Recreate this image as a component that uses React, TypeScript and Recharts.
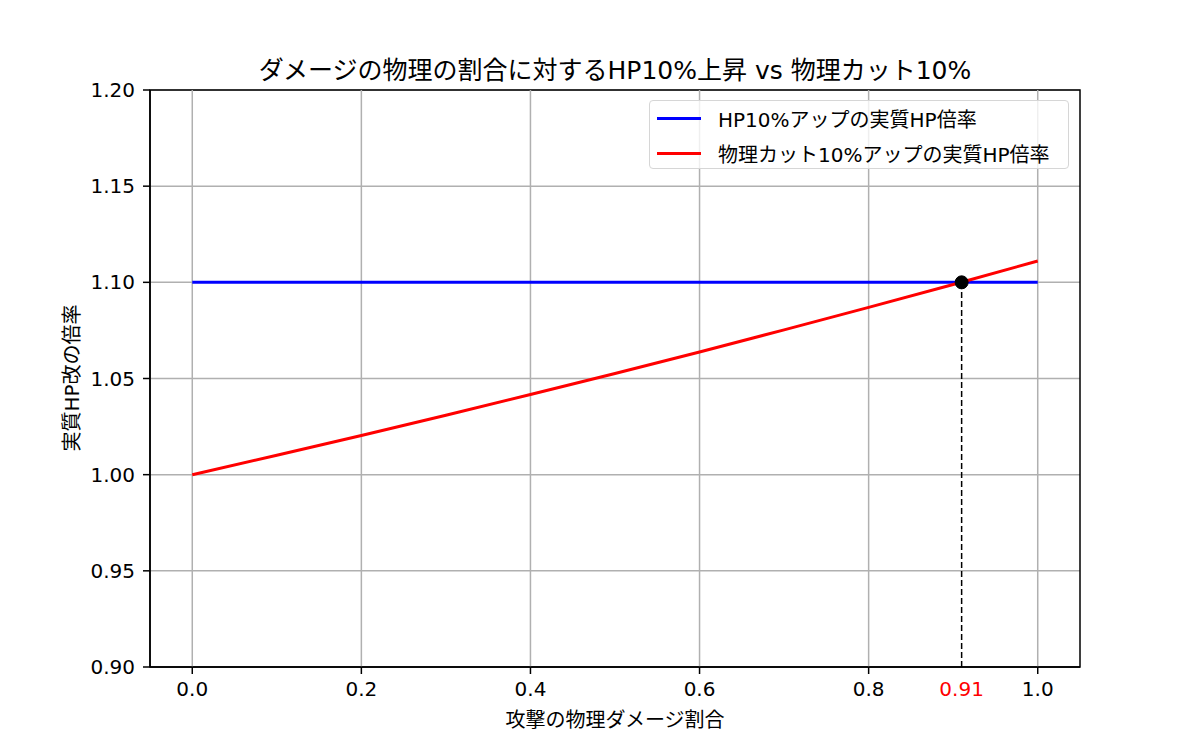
import {
  ComposedChart,
  Line,
  XAxis,
  YAxis,
  CartesianGrid,
  ReferenceLine,
  ReferenceDot,
  ReferenceArea,
} from "recharts";

const FONT = "'DejaVu Sans', 'Noto Sans CJK JP', sans-serif";

// physical damage ratio (x)
const ratios = [0, 0.1, 0.2, 0.3, 0.4, 0.5, 0.6, 0.7, 0.8, 0.9, 1.0];
// effective HP multiplier: HP +10%
const hpUp = [1.1, 1.1, 1.1, 1.1, 1.1, 1.1, 1.1, 1.1, 1.1, 1.1, 1.1];
// effective HP multiplier: physical cut +10%
const cutUp = [1.0, 1.0101, 1.0204, 1.0309, 1.0417, 1.0526, 1.0638, 1.0753, 1.087, 1.0989, 1.1111];

const xTicks = [0, 0.2, 0.4, 0.6, 0.8, 1.0];
const crossX = 0.91;
const crossY = 1.1;
const xLabelTicks = [0, 0.2, 0.4, 0.6, 0.8, crossX, 1.0];
const yTicks = [0.9, 0.95, 1.0, 1.05, 1.1, 1.15, 1.2];

const title = "ダメージの物理の割合に対するHP10%上昇 vs 物理カット10%";
const xLabel = "攻撃の物理ダメージ割合";
const yLabel = "実質HP改の倍率";
const seriesNames = ["HP10%アップの実質HP倍率", "物理カット10%アップの実質HP倍率"];
const seriesColors = ["#0000ff", "#ff0000"];

const data = ratios.map((x, i) => ({ x, hp: hpUp[i], cut: cutUp[i] }));

function XTick(props: any) {
  const { x, y, payload } = props;
  const v = payload.value as number;
  const isCross = v === crossX;
  return (
    <g>
      {!isCross && <line x1={x} x2={x} y1={y - 13} y2={y - 6} stroke="#000" strokeWidth={1.5} />}
      <text
        x={x}
        y={y}
        dy="0.78em"
        textAnchor="middle"
        fontSize={20}
        fontFamily={FONT}
        fill={isCross ? "#ff0000" : "#000"}
      >
        {isCross ? v.toFixed(2) : v.toFixed(1)}
      </text>
    </g>
  );
}

export default function App() {
  return (
    <div
      style={{
        position: "absolute",
        left: 0,
        top: 0,
        width: 1200,
        height: 750,
        background: "#fff",
        fontFamily: FONT,
      }}
    >
      <ComposedChart
        width={1200}
        height={750}
        data={data}
        margin={{ top: 90, right: 120, bottom: 23, left: 50 }}
      >
        <CartesianGrid vertical={false} stroke="#b0b0b0" strokeWidth={1.5} />
        {xTicks.map((t) => (
          <ReferenceLine key={t} x={t} stroke="#b0b0b0" strokeWidth={1.5} />
        ))}
        <XAxis
          type="number"
          dataKey="x"
          domain={[-0.05, 1.05]}
          ticks={xLabelTicks}
          interval={0}
          height={60}
          tickSize={7}
          tickMargin={6}
          tickLine={false}
          axisLine={{ stroke: "#000", strokeWidth: 1.5 }}
          tick={<XTick />}
          allowDataOverflow
        />
        <YAxis
          type="number"
          domain={[0.9, 1.2]}
          ticks={yTicks}
          interval={0}
          width={100}
          tickSize={7}
          tickMargin={8}
          tickLine={{ stroke: "#000", strokeWidth: 1.5 }}
          axisLine={{ stroke: "#000", strokeWidth: 1.5 }}
          tick={{ fontSize: 20, fill: "#000", fontFamily: FONT }}
          tickFormatter={(v: number) => v.toFixed(2)}
          allowDataOverflow
        />
        <ReferenceArea
          x1={-0.05}
          x2={1.05}
          y1={0.9}
          y2={1.2}
          fill="none"
          fillOpacity={0}
          stroke="#000"
          strokeWidth={1.5}
        />
        <Line
          dataKey="hp"
          stroke={seriesColors[0]}
          strokeWidth={3}
          dot={false}
          isAnimationActive={false}
        />
        <Line
          dataKey="cut"
          stroke={seriesColors[1]}
          strokeWidth={3}
          dot={false}
          isAnimationActive={false}
        />
        <ReferenceLine
          segment={[
            { x: crossX, y: 0.9 },
            { x: crossX, y: crossY },
          ]}
          stroke="#000"
          strokeWidth={1.5}
          strokeDasharray="6 3"
        />
        <ReferenceDot x={crossX} y={crossY} r={6.5} fill="#000" stroke="#000" />
      </ComposedChart>

      <div
        style={{
          position: "absolute",
          left: 615,
          top: 68,
          transform: "translate(-50%, -50%)",
          fontSize: 25,
          whiteSpace: "nowrap",
          color: "#000",
        }}
      >
        {title}
      </div>
      <div
        style={{
          position: "absolute",
          left: 615,
          top: 718,
          transform: "translate(-50%, -50%)",
          fontSize: 20,
          whiteSpace: "nowrap",
        }}
      >
        {xLabel}
      </div>
      <div
        style={{
          position: "absolute",
          left: 70,
          top: 378,
          transform: "translate(-50%, -50%) rotate(-90deg)",
          fontSize: 20,
          whiteSpace: "nowrap",
        }}
      >
        {yLabel}
      </div>

      <div
        style={{
          position: "absolute",
          left: 649,
          top: 100,
          width: 420,
          height: 69,
          boxSizing: "border-box",
          border: "1.5px solid #d6d6d6",
          borderRadius: 4,
          background: "rgba(255,255,255,0.8)",
        }}
      >
        {seriesNames.map((name, i) => (
          <div
            key={name}
            style={{
              position: "absolute",
              left: 7,
              top: 4 + i * 35,
              height: 26,
              display: "flex",
              alignItems: "center",
              fontSize: 20,
              whiteSpace: "nowrap",
            }}
          >
            <span
              style={{
                display: "inline-block",
                width: 44,
                height: 3,
                background: seriesColors[i],
                marginRight: 17,
              }}
            />
            {name}
          </div>
        ))}
      </div>
    </div>
  );
}
